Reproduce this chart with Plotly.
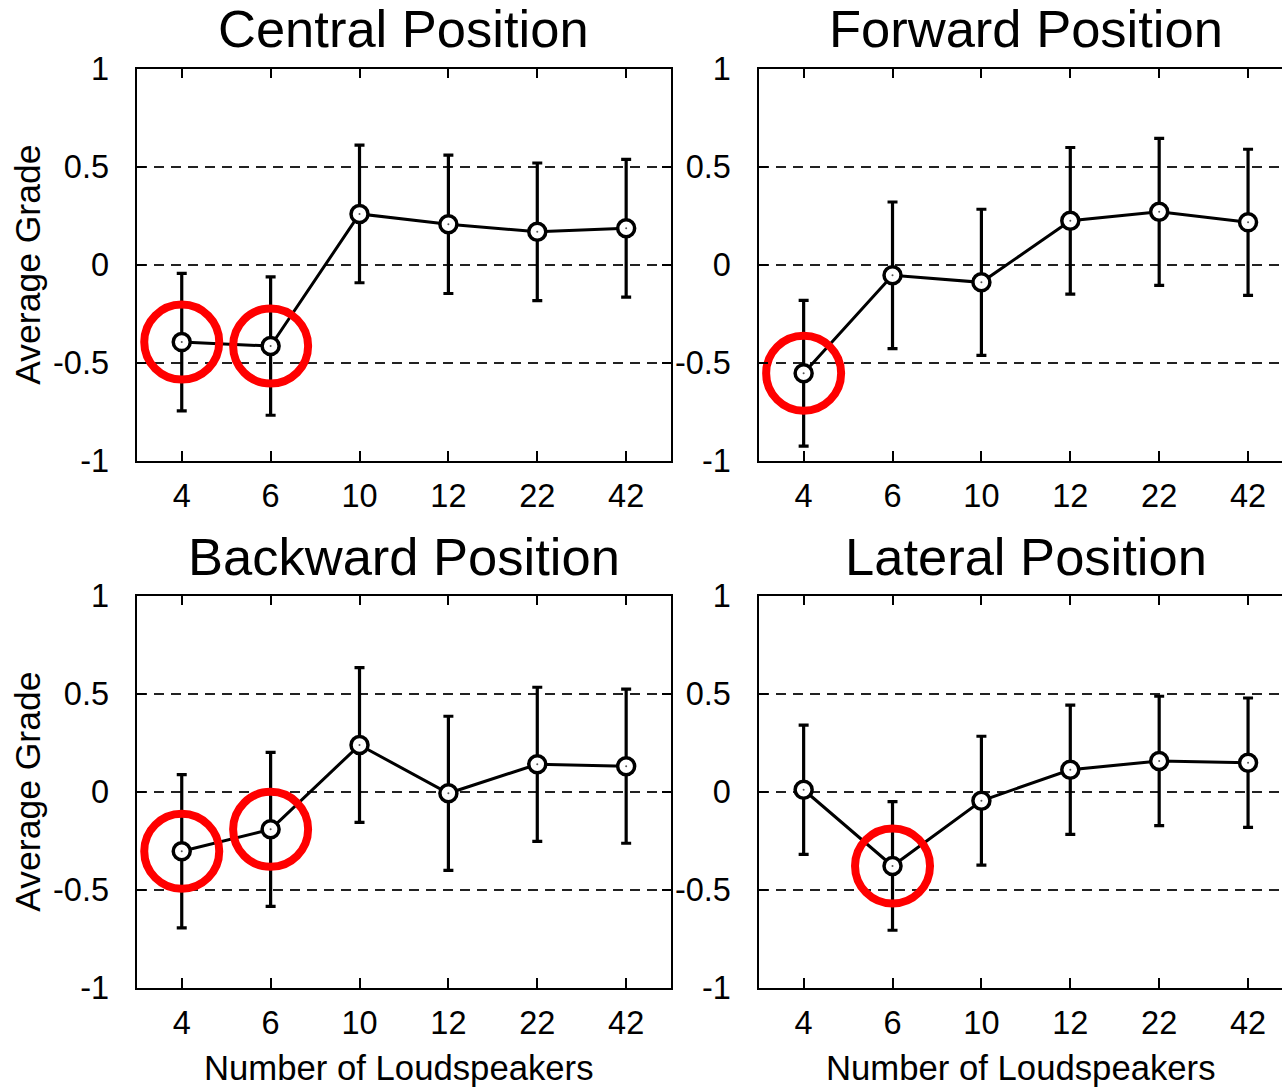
import plotly.graph_objects as go

# ---------------- data ----------------
categories = ["4", "6", "10", "12", "22", "42"]
panel_titles = ["Central Position", "Forward Position", "Backward Position", "Lateral Position"]
x_title = "Number of Loudspeakers"
y_title = "Average Grade"

central_mean = [-0.395, -0.415, 0.259, 0.206, 0.168, 0.186]
central_err = [0.351, 0.353, 0.351, 0.353, 0.351, 0.351]
forward_mean = [-0.554, -0.054, -0.090, 0.224, 0.270, 0.216]
forward_err = [0.372, 0.374, 0.373, 0.374, 0.375, 0.373]
backward_mean = [-0.304, -0.192, 0.238, -0.008, 0.140, 0.130]
backward_err = [0.391, 0.393, 0.395, 0.393, 0.393, 0.393]
lateral_mean = [0.010, -0.379, -0.046, 0.112, 0.157, 0.148]
lateral_err = [0.330, 0.328, 0.329, 0.330, 0.330, 0.330]

highlight_central = ["4", "6"]
highlight_forward = ["4"]
highlight_backward = ["4", "6"]
highlight_lateral = ["6"]

y_ticks = [-1, -0.5, 0, 0.5, 1]
y_tick_labels = ["-1", "-0.5", "0", "0.5", "1"]

# ---------------- figure ----------------
W, H = 1282, 1088
FONT = "Liberation Sans, Arial, Helvetica, sans-serif"

panels = [
    (central_mean, central_err, highlight_central),
    (forward_mean, forward_err, highlight_forward),
    (backward_mean, backward_err, highlight_backward),
    (lateral_mean, lateral_err, highlight_lateral),
]

fig = go.Figure()
for i, (mean, err, hl) in enumerate(panels):
    ax = "" if i == 0 else str(i + 1)
    fig.add_trace(go.Scatter(
        x=categories, y=mean, mode="lines+markers",
        xaxis="x" + ax, yaxis="y" + ax,
        line=dict(color="black", width=3),
        marker=dict(symbol="circle", size=17, color="white",
                    line=dict(color="black", width=3.5)),
        error_y=dict(type="data", array=err, visible=True,
                     color="black", thickness=3.2, width=5),
        showlegend=False, hoverinfo="x+y",
    ))
    # tiny centre dot inside each marker
    fig.add_trace(go.Scatter(
        x=categories, y=mean, mode="markers",
        xaxis="x" + ax, yaxis="y" + ax,
        marker=dict(symbol="circle", size=2, color="#555555"),
        showlegend=False, hoverinfo="skip",
    ))
    hx = [c for c in categories if c in hl]
    hy = [mean[categories.index(c)] for c in hx]
    fig.add_trace(go.Scatter(
        x=hx, y=hy, mode="markers",
        xaxis="x" + ax, yaxis="y" + ax,
        marker=dict(symbol="circle-open", size=75,
                    line=dict(color="#ff0000", width=8), color="#ff0000"),
        showlegend=False, hoverinfo="skip",
    ))

# pixel geometry
left_px = (137.3, 670.6)
right_px = (759.2, 1292.5)
cat_px = (left_px[1] - left_px[0]) / 6.0
top_py = (68.7, 460.7)
bot_py = (595.7, 987.7)

def xd(px):
    return [px[0] / W, min(px[1] / W, 1.0)]

def yd(py):
    return [1 - py[1] / H, 1 - py[0] / H]

right_range_end = -0.5 + (W - right_px[0]) / cat_px

common_x = dict(
    type="category", showline=True, linecolor="black", linewidth=1.5,
    ticks="inside", ticklen=10, tickwidth=1.5, tickcolor="black",
    showgrid=False, zeroline=False, automargin=False,
    tickfont=dict(family=FONT, size=32.5, color="black"),
    ticklabelstandoff=6,
)
common_y = dict(
    range=[-1, 1], tickvals=y_ticks, ticktext=y_tick_labels,
    showline=True, linecolor="black", linewidth=1.5,
    ticks="inside", ticklen=9, tickwidth=1.5, tickcolor="black",
    showgrid=True, gridcolor="#222222", gridwidth=1.5, griddash="10px,7px",
    zeroline=False, automargin=False,
    tickfont=dict(family=FONT, size=32.5, color="black"),
    ticklabelstandoff=20,
)

layout_axes = {}
geo = [
    (left_px, top_py, False),
    (right_px, top_py, True),
    (left_px, bot_py, False),
    (right_px, bot_py, True),
]
for i, (px, py, is_right) in enumerate(geo):
    n = "" if i == 0 else str(i + 1)
    xa = dict(common_x)
    xa.update(domain=xd(px), anchor="y" + n, mirror="ticks",
              range=[-0.5, right_range_end if is_right else 5.5])
    ya = dict(common_y)
    ya.update(domain=yd(py), anchor="x" + n,
              mirror=False if is_right else "ticks")
    layout_axes["xaxis" + n] = xa
    layout_axes["yaxis" + n] = ya

annotations = []
centers_x = [(left_px[0] + left_px[1]) / 2, (right_px[0] + right_px[1]) / 2]
title_y_px = [29, 556]
for i, t in enumerate(panel_titles):
    cx = centers_x[i % 2]
    cy = title_y_px[i // 2]
    annotations.append(dict(
        text=t, x=cx / W, y=1 - cy / H, xref="paper", yref="paper",
        xanchor="center", yanchor="middle", showarrow=False,
        font=dict(family=FONT, size=52.5, color="black"),
    ))
for py in (top_py, bot_py):
    cy = (py[0] + py[1]) / 2
    annotations.append(dict(
        text=y_title, x=28 / W, y=1 - cy / H, xref="paper", yref="paper",
        xanchor="center", yanchor="middle", textangle=-90, showarrow=False,
        font=dict(family=FONT, size=35.5, color="black"),
    ))
for cx in (399, 1021):
    annotations.append(dict(
        text=x_title, x=cx / W, y=1 - 1068 / H, xref="paper", yref="paper",
        xanchor="center", yanchor="middle", showarrow=False,
        font=dict(family=FONT, size=34.7, color="black"),
    ))

fig.update_layout(
    width=W, height=H, autosize=False,
    margin=dict(l=0, r=0, t=0, b=0, pad=0),
    paper_bgcolor="white", plot_bgcolor="white",
    font=dict(family=FONT, color="black"),
    annotations=annotations,
    **layout_axes,
)

fig.write_html("out.html",
               config={"displayModeBar": False},
               post_script="document.body.style.margin='0';document.body.style.overflow='hidden';")
